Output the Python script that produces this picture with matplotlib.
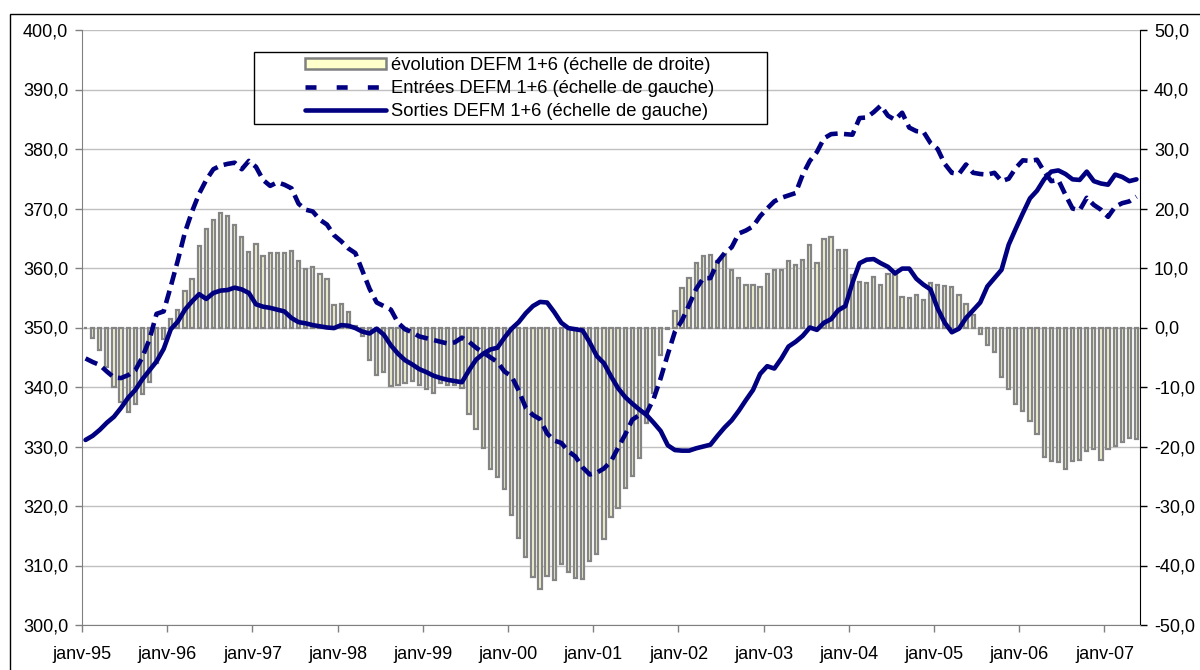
import numpy as np
import pandas as pd
import matplotlib
matplotlib.use("Agg")
import matplotlib.pyplot as plt
from matplotlib.patches import Rectangle, Patch
from matplotlib.lines import Line2D
from matplotlib.ticker import FuncFormatter, MultipleLocator, FixedLocator

plt.rcParams['font.family'] = ['Liberation Sans', 'DejaVu Sans']

# ---- data (monthly, Jan 1995 -> May 2007) ----
months = pd.date_range("1995-01-01", periods=149, freq="MS")

evolution = [
    # 1995
    0.0, -1.8, -3.8, -6.7, -10.0, -12.5, -14.2, -12.9, -11.2, -9.2, -5.9, -2.0,
    # 1996
    1.5, 3.0, 6.1, 8.1, 13.7, 16.6, 18.0, 19.2, 18.7, 17.3, 15.2, 12.7,
    # 1997
    14.0, 12.0, 12.5, 12.6, 12.5, 12.9, 11.1, 9.8, 10.1, 9.0, 8.1, 3.7,
    # 1998
    3.9, 2.6, 0.2, -1.5, -5.4, -8.0, -7.4, -9.9, -9.6, -9.3, -9.0, -9.6,
    # 1999
    -10.4, -11.0, -9.4, -9.7, -9.6, -10.1, -14.6, -17.0, -20.2, -23.7, -25.2, -27.2,
    # 2000
    -31.5, -35.3, -38.5, -41.9, -43.9, -41.8, -42.4, -39.8, -41.1, -42.1, -42.2, -39.2,
    # 2001
    -38.1, -35.6, -31.8, -30.4, -26.9, -25.0, -22.0, -16.1, -11.0, -4.7, -0.2, 2.7,
    # 2002
    6.6, 8.4, 10.8, 12.0, 12.2, 11.1, 12.3, 9.7, 8.4, 7.2, 7.1, 6.8,
    # 2003
    9.0, 9.7, 9.6, 11.2, 10.5, 11.3, 13.8, 10.9, 14.8, 15.2, 13.0, 13.0,
    # 2004
    8.9, 7.7, 7.4, 8.5, 7.2, 9.0, 8.9, 5.2, 4.9, 5.5, 4.6, 7.5,
    # 2005
    7.2, 6.9, 6.8, 5.4, 3.9, 2.1, -1.1, -2.9, -4.2, -8.3, -10.3, -12.9,
    # 2006
    -14.0, -15.7, -17.9, -21.7, -22.4, -22.6, -23.7, -22.4, -22.3, -20.7, -20.5, -22.2,
    # 2007
    -20.5, -19.9, -19.2, -18.5, -18.7,
]

entrees = [
    344.8, 344.2, 343.7, 342.6, 341.6, 341.5, 342.0, 342.8, 345.0, 348.0, 352.3, 352.7,
    356.9, 361.3, 366.0, 369.5, 372.5, 374.8, 376.6, 377.2, 377.5, 377.7, 376.6, 378.0,
    377.0, 374.8, 373.8, 374.4, 374.0, 373.4, 370.8, 369.8, 369.5, 368.1, 367.3, 365.5,
    364.5, 363.3, 362.5, 359.5, 356.5, 354.2, 353.6, 353.0, 350.8, 349.7, 349.2, 348.5,
    348.2, 347.9, 347.6, 347.3, 347.5, 348.3, 347.6, 346.6, 345.8, 345.0, 344.2, 342.6,
    341.8, 339.4, 336.5, 335.3, 334.6, 332.2, 331.0, 330.6, 329.2, 328.3, 326.5, 325.3,
    325.6, 326.3, 327.5, 329.8, 332.0, 334.5, 335.3, 335.6, 338.0, 341.5, 345.5, 349.3,
    351.2, 353.8, 356.5, 358.3, 358.3, 361.0, 362.5, 363.5, 365.8, 366.3, 367.0, 368.7,
    370.0, 371.2, 371.8, 372.2, 372.6, 375.7, 378.0, 379.5, 381.8, 382.5, 382.6, 382.5,
    382.4, 385.2, 385.3, 386.2, 387.3, 385.6, 384.9, 386.1, 383.6, 383.0, 382.9, 381.0,
    380.0, 377.5, 376.0, 375.8, 377.4, 376.0, 375.8, 375.7, 376.0, 374.6, 375.0, 376.8,
    378.1, 378.0, 378.2, 376.2, 374.6, 374.8, 372.3, 370.0, 369.7, 371.8, 370.6, 369.8,
    368.6, 370.3, 370.9, 371.2, 372.0,
]

sorties = [
    331.1, 331.8, 332.8, 334.0, 335.0, 336.5, 338.2, 339.5, 341.3, 342.8, 344.3, 346.4,
    349.7, 351.0, 353.0, 354.4, 355.6, 354.8, 355.8, 356.2, 356.3, 356.7, 356.4, 355.8,
    353.9, 353.5, 353.3, 353.0, 352.7, 351.6, 350.9, 350.7, 350.4, 350.2, 350.0, 349.9,
    350.4, 350.3, 349.9, 349.3, 349.0, 349.8, 348.8, 347.0, 345.6, 344.5, 343.8, 343.0,
    342.5, 341.9, 341.5, 341.2, 341.0, 340.8, 342.8, 344.6, 345.6, 346.3, 346.6, 348.3,
    349.8, 350.9, 352.4, 353.6, 354.3, 354.2, 352.6, 350.8, 349.9, 349.7, 349.5, 347.5,
    345.2, 344.0, 341.8, 339.8, 338.3, 337.2, 336.2, 335.3, 334.0, 332.6, 330.2, 329.4,
    329.3, 329.3, 329.7, 330.0, 330.3, 331.8, 333.2, 334.4, 336.0, 337.8, 339.5, 342.2,
    343.5, 343.1, 344.8, 346.8, 347.6, 348.6, 350.0, 349.6, 350.8, 351.4, 352.9, 353.6,
    357.5, 360.8, 361.4, 361.5, 360.8, 360.2, 359.1, 359.9, 359.9, 358.2, 357.2, 356.4,
    353.2, 350.8, 349.2, 349.8, 351.6, 352.9, 354.2, 356.9, 358.3, 359.7, 363.9, 366.6,
    369.2, 371.7, 373.0, 374.9, 376.2, 376.4, 375.8, 374.9, 374.8, 376.2, 374.6, 374.2,
    374.0, 375.7, 375.3, 374.6, 374.9,
]

year_labels = ["janv-95", "janv-96", "janv-97", "janv-98", "janv-99", "janv-00",
               "janv-01", "janv-02", "janv-03", "janv-04", "janv-05", "janv-06", "janv-07"]

labels = ["évolution DEFM 1+6 (échelle de droite)",
          "Entrées DEFM 1+6 (échelle de gauche)",
          "Sorties DEFM 1+6 (échelle de gauche)"]

# ---- style ----
NAVY = "#000080"
BAR_EDGE = "#858585"
BAR_FILL = "#F4F4D0"
GRID = "#C0C0C0"
AXGRAY = "#808080"
FS = 13

W, H = 1200, 670
fig = plt.figure(figsize=(W / 100, H / 100), dpi=100)
L, R, T, B = 82, 1140, 30, 625
ax = fig.add_axes([L / W, 1 - B / H, (R - L) / W, (B - T) / H])
ax2 = ax.twinx()

x = np.arange(len(months)) + 0.5

# bars on the right scale (ax2), lines on the left scale (ax) drawn above
ax2.bar(x, evolution, width=0.46, color=BAR_FILL, edgecolor=BAR_EDGE,
        linewidth=1.6, zorder=2)
ax2.set_ylim(-50, 50)
ax2.yaxis.set_major_locator(MultipleLocator(10))
ax2.grid(axis="y", color=GRID, linewidth=1.0, zorder=0)
ax2.set_axisbelow(True)

ax.plot(x, entrees, color=NAVY, linewidth=3.3, linestyle=(0, (2.8, 1.4)),
        dash_capstyle="butt", zorder=3)
ax.plot(x, sorties, color=NAVY, linewidth=3.3, solid_capstyle="round",
        solid_joinstyle="round", zorder=3)
ax.set_ylim(300, 400)
ax.yaxis.set_major_locator(MultipleLocator(10))

ax.set_zorder(ax2.get_zorder() + 1)
ax.patch.set_visible(False)

ax.set_xlim(0, len(months))
year_pos = [i for i, m in enumerate(months) if m.month == 1]
ax.xaxis.set_major_locator(FixedLocator(year_pos))
ax.set_xticklabels(year_labels[:len(year_pos)])

fmt = FuncFormatter(lambda v, p: f"{v:.1f}".replace(".", ","))
ax.yaxis.set_major_formatter(fmt)
ax2.yaxis.set_major_formatter(fmt)

for s in ["top", "right"]:
    ax.spines[s].set_visible(False)
ax.spines["left"].set_color(AXGRAY)
ax.spines["bottom"].set_color(AXGRAY)
for s in ["top", "left", "bottom"]:
    ax2.spines[s].set_visible(False)
ax2.spines["right"].set_color("black")

ax.tick_params(axis="y", direction="out", length=5, width=1, color=AXGRAY,
               labelsize=FS, pad=5, labelcolor="black")
ax.tick_params(axis="x", direction="out", length=5, width=1, color=AXGRAY,
               labelsize=FS, pad=10, labelcolor="black")
ax2.tick_params(axis="y", direction="out", length=5, width=1, color="black",
                labelsize=FS, pad=5, labelcolor="black")

# legend
handles = [Patch(facecolor="#FFFFCC", edgecolor=AXGRAY, linewidth=1.8),
           Line2D([], [], color=NAVY, linewidth=3.3, linestyle=(0, (2.4, 4.4))),
           Line2D([], [], color=NAVY, linewidth=3.3, solid_capstyle="round")]
leg = fig.legend(handles, labels, loc="upper left",
                 bbox_to_anchor=(305 / W, 1 - 57 / H), bbox_transform=fig.transFigure,
                 frameon=False, fontsize=13.2, handlelength=4.4, handleheight=0.6,
                 handletextpad=0.3, labelspacing=0.33, borderpad=0, borderaxespad=0)

fig.patches.append(Rectangle((254 / W, 1 - 124 / H), (767 - 254) / W, (124 - 52) / H,
                             transform=fig.transFigure, fill=False,
                             edgecolor="black", linewidth=1.0))
# outer chart frame
fig.patches.append(Rectangle((10 / W, -0.2), 1.2, (H - 14) / H + 0.2,
                             transform=fig.transFigure, fill=False,
                             edgecolor="black", linewidth=1.0))

fig.savefig("out.png", dpi=100)
